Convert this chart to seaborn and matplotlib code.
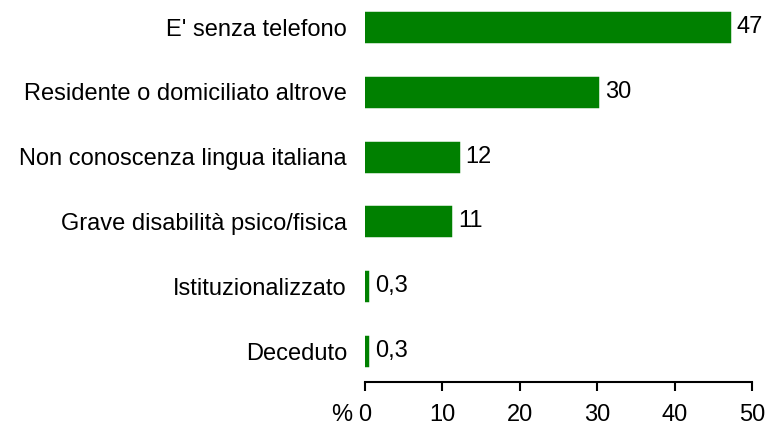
import pandas as pd
import numpy as np
import matplotlib
matplotlib.use("Agg")
import matplotlib.pyplot as plt
import seaborn as sns

# motivi di non eleggibilità (%)
categorie = ["E' senza telefono", "Residente o domiciliato altrove",
             "Non conoscenza lingua italiana", "Grave disabilità psico/fisica",
             "Istituzionalizzato", "Deceduto"]
valori = [47, 30, 12, 11, 0.3, 0.3]
etichette = ["47", "30", "12", "11", "0,3", "0,3"]
x_ticks = [0, 10, 20, 30, 40, 50]

df = pd.DataFrame({"motivo": categorie, "perc": valori})

sns.set_style("white")
plt.rcParams['font.family'] = ['Liberation Sans', 'DejaVu Sans']
plt.rcParams['text.color'] = 'black'
fs = 17

fig = plt.figure(figsize=(7.68, 4.25), dpi=100)
ax = fig.add_axes([365/768, 1 - 382/425, (752 - 365)/768, 382/425])

sns.barplot(data=df, y="motivo", x="perc", orient="h", color="#008000",
            width=0.43, saturation=1, edgecolor="#008000", linewidth=2.5, ax=ax)

for i, (v, lab) in enumerate(zip(valori, etichette)):
    ax.text(v + 1.0, i, lab, va="center", ha="left", fontsize=fs, color="black")

ax.set_xlim(0, 50)
ax.set_ylim(5.478, -0.417)
ax.set_xticks(x_ticks)
ax.set_xticklabels([str(t) for t in x_ticks])
ax.set_xlabel("")
ax.set_ylabel("")
ax.tick_params(axis="y", left=False, length=0, pad=13, labelsize=fs, labelcolor="black")
ax.tick_params(axis="x", bottom=True, length=6.5, width=1.5, direction="out", pad=9,
               labelsize=fs, colors="black")
for s in ["top", "right", "left"]:
    ax.spines[s].set_visible(False)
ax.spines["bottom"].set_linewidth(1.5)
ax.spines["bottom"].set_color("black")

ax.annotate("%", xy=(0, 0), xycoords="axes fraction", xytext=(-13, -33),
            textcoords="offset pixels", ha="right", va="center", fontsize=fs)

fig.savefig("out.png", dpi=100)
